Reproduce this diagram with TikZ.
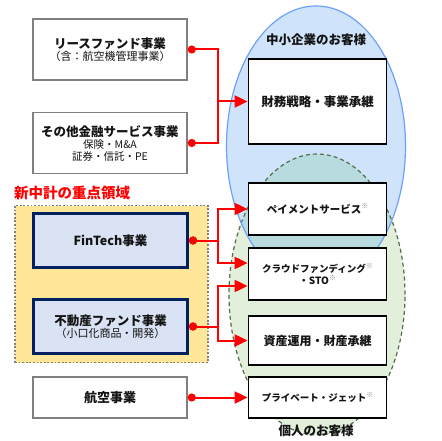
\documentclass[tikz,border=0pt]{standalone}
\usepackage{fontspec}
\setmainfont{Noto Sans CJK JP}
\usetikzlibrary{arrows.meta,positioning}
\definecolor{bluefill}{RGB}{207,228,251}
\definecolor{blueline}{RGB}{110,160,250}
\definecolor{greenfill}{RGB}{226,239,218}
\definecolor{greenline}{RGB}{84,110,74}
\definecolor{bothfill}{RGB}{184,219,224}
\definecolor{focusfill}{RGB}{255,230,153}
\definecolor{navy}{RGB}{0,32,96}
\definecolor{paleblue}{RGB}{218,227,243}
\definecolor{boxgray}{RGB}{128,128,128}
\definecolor{inkgray}{RGB}{20,20,20}
\definecolor{komegray}{RGB}{140,140,140}
\newcommand{\kome}{\raisebox{0.45em}{\fontsize{7}{7}\selectfont\color{komegray}※}}
\begin{document}
\begin{tikzpicture}[x=1pt,y=-1pt,
  bizbox/.style={draw=boxgray, line width=1.5pt, fill=white, minimum width=154pt,
    inner sep=0pt, align=center, text=inkgray},
  focusbox/.style={draw=navy, line width=3pt, fill=paleblue, minimum width=154pt,
    minimum height=54pt, inner sep=0pt, align=center, text=inkgray},
  custbox/.style={draw=black, line width=1.8pt, fill=white, minimum width=138pt,
    inner sep=0pt, align=center, text=inkgray},
  link/.style={draw=red, line width=2pt, {Circle[length=8pt,width=8pt]}-{Triangle[length=13pt,width=12pt]}},
  joinlink/.style={draw=red, line width=2pt, {Circle[length=8pt,width=8pt]}-}]
\useasboundingbox (0,0) rectangle (442,441);

% customer groups
\fill[greenfill] (317,294.5) ellipse [x radius=88pt, y radius=140.5pt];
\fill[bluefill] (316,146) ellipse [x radius=89.5pt, y radius=140pt];
\begin{scope}
\clip (316,146) ellipse [x radius=89.5pt, y radius=140pt];
\fill[bothfill] (317,294.5) ellipse [x radius=88pt, y radius=140.5pt];
\end{scope}
\draw[greenline, line width=1.2pt, dash pattern=on 4pt off 3pt] (317,294.5) ellipse [x radius=88pt, y radius=140.5pt];
\draw[blueline, line width=1.2pt] (316,146) ellipse [x radius=89.5pt, y radius=140pt];
\node[font=\bfseries\fontsize{12.5}{14}\selectfont, text=inkgray] (smes) at (316,40) {中小企業のお客様};

% focus area
\node[draw=gray, line width=1.8pt, dash pattern=on 1.8pt off 1.8pt, fill=focusfill, minimum width=193pt,
  minimum height=157pt, inner sep=0pt] (focus) at (111.5,284) {};
\node[anchor=west, text=red, font=\bfseries\fontsize{14.5}{16}\selectfont, inner sep=0pt] (focustitle) at (14,193) {新中計の重点領域};

% businesses
\node[bizbox, minimum height=61pt] (lease) at (110,49.5)
  {{\bfseries\fontsize{12.5}{16}\selectfont リースファンド事業}\\
   {\fontsize{11}{12}\selectfont（含：航空機管理事業）}};
\node[bizbox, minimum height=61pt] (other) at (110,143)
  {{\bfseries\fontsize{12.5}{18}\selectfont その他金融サービス事業}\\
   {\fontsize{10.5}{15}\selectfont 保険・M\&A}\\
   {\fontsize{10.5}{12}\selectfont 証券・信託・PE}};
\node[focusbox] (fintech) at (110.5,240.5) {{\bfseries\fontsize{12.5}{14}\selectfont FinTech事業}};
\node[focusbox] (estate) at (110.5,326.5)
  {{\bfseries\fontsize{12.5}{16}\selectfont 不動産ファンド事業}\\
   {\fontsize{11}{12}\selectfont（小口化商品・開発）}};
\node[bizbox, minimum height=41pt] (aviation) at (110,397.5) {{\bfseries\fontsize{13}{14}\selectfont 航空事業}};

% services
\node[custbox, minimum height=85pt] (strategy) at (317.5,101.5) {{\bfseries\fontsize{12.5}{14}\selectfont 財務戦略・事業承継}};
\node[custbox, minimum height=52pt] (payment) at (317.5,209) {{\bfseries\fontsize{10.5}{12}\selectfont ペイメントサービス\kome}};
\node[custbox, minimum height=52pt] (crowd) at (317.5,274)
  {{\bfseries\fontsize{9.5}{16}\selectfont クラウドファンディング\kome}\\
   {\bfseries\fontsize{10}{12}\selectfont ・STO\kome}};
\node[custbox, minimum height=49pt] (asset) at (317.5,340.5) {{\bfseries\fontsize{12}{14}\selectfont 資産運用・財産承継}};
\node[custbox, minimum height=41pt] (jet) at (317.5,397.5) {{\bfseries\fontsize{9.5}{12}\selectfont プライベート・ジェット\kome}};
\node[font=\bfseries\fontsize{12.5}{14}\selectfont, text=inkgray, inner sep=1pt] (people) at (316,431) {個人のお客様};

% connectors
\coordinate (bus) at (218,0);
\coordinate (crowdup) at ([yshift=11pt]crowd.west);
\coordinate (crowddown) at ([yshift=-12pt]crowd.west);
\draw[link] (lease.east) -| (bus |- strategy.west) -- (strategy.west);
\draw[joinlink] (other.east) -| (bus |- strategy.west);
\draw[link] (fintech.east) -| (bus |- payment.west) -- (payment.west);
\draw[link] (fintech.east) -| (bus |- crowdup) -- (crowdup);
\draw[link] (estate.east) -| (bus |- crowddown) -- (crowddown);
\draw[link] (estate.east) -| (bus |- asset.west) -- (asset.west);
\draw[link] (aviation.east) -- (jet.west);
\end{tikzpicture}
\end{document}
